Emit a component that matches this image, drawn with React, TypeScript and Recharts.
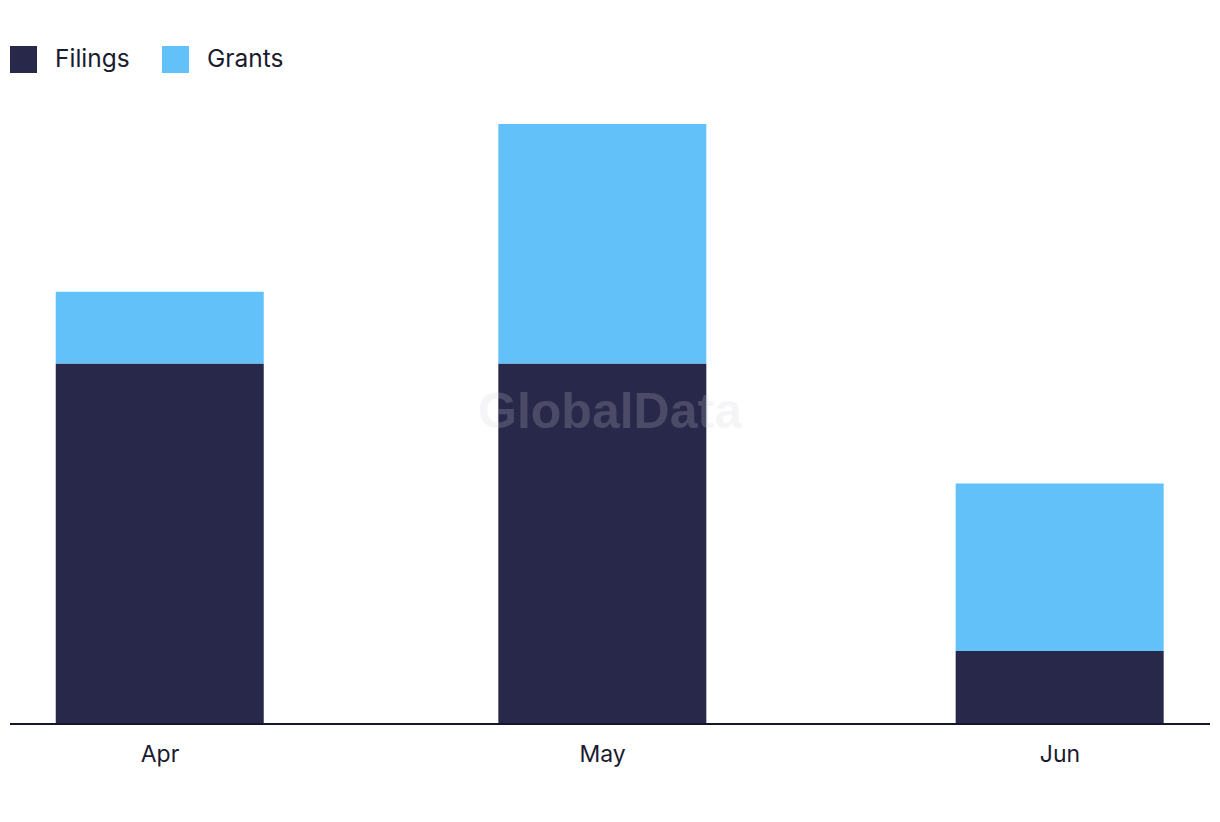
import React from "react";
import { BarChart, Bar, XAxis, YAxis } from "recharts";

// months are placed on a day scale (Apr 1 = day 0), so spacing follows month length
const months = ["Apr", "May", "Jun"];
const dayOffsets = [0, 30, 61];
const filings = [15, 15, 3];
const grants = [3, 10, 7];

const NAVY = "#28284a";
const BLUE = "#62c1f9";
const TEXT = "#1b1b30";
const FONT = "Inter, 'Open Sans', sans-serif";

const data = months.map((m, i) => ({
  month: m,
  day: dayOffsets[i],
  filings: filings[i],
  grants: grants[i],
}));

function tickLabel(v: number) {
  const i = dayOffsets.indexOf(v);
  return i >= 0 ? months[i] : "";
}

function LegendItem({ color, label, left }: { color: string; label: string; left: number }) {
  return (
    <div
      style={{
        position: "absolute",
        left,
        top: 46,
        height: 27,
        display: "flex",
        alignItems: "center",
      }}
    >
      <span style={{ width: 27, height: 27, background: color, display: "inline-block" }} />
      <span
        style={{
          marginLeft: 18,
          fontSize: 24.5,
          color: TEXT,
          fontFamily: FONT,
          position: "relative",
          top: -2,
        }}
      >
        {label}
      </span>
    </div>
  );
}

export default function App() {
  return (
    <div style={{ position: "absolute", left: 0, top: 0, width: 1220, height: 822, background: "#fff" }}>
      <LegendItem color={NAVY} label="Filings" left={10} />
      <LegendItem color={BLUE} label="Grants" left={162} />

      <BarChart
        width={1220}
        height={822}
        data={data}
        margin={{ top: 124, right: 10, left: 10, bottom: 0 }}
      >
        <XAxis
          dataKey="day"
          type="number"
          domain={[-10.17, 71.17]}
          ticks={dayOffsets}
          tickFormatter={tickLabel}
          height={99}
          tickLine={false}
          tickSize={6}
          tickMargin={17}
          axisLine={{ stroke: "#151530", strokeWidth: 2, transform: "translate(0, 1)" }}
          tick={{ fontSize: 23, fill: TEXT, fontFamily: FONT }}
        />
        <YAxis hide domain={[0, 25]} />
        <Bar dataKey="filings" stackId="a" fill={NAVY} barSize={208} isAnimationActive={false} />
        <Bar dataKey="grants" stackId="a" fill={BLUE} barSize={208} isAnimationActive={false} />
      </BarChart>

      {/* watermark */}
      <div
        style={{
          position: "absolute",
          left: 610,
          top: 411,
          transform: "translate(-50%, -50%)",
          fontFamily: "'Liberation Sans', Arial, sans-serif",
          fontWeight: 700,
          fontSize: 50,
          color: "rgba(207, 207, 215, 0.21)",
          pointerEvents: "none",
          whiteSpace: "nowrap",
        }}
      >
        GlobalData
      </div>
    </div>
  );
}
